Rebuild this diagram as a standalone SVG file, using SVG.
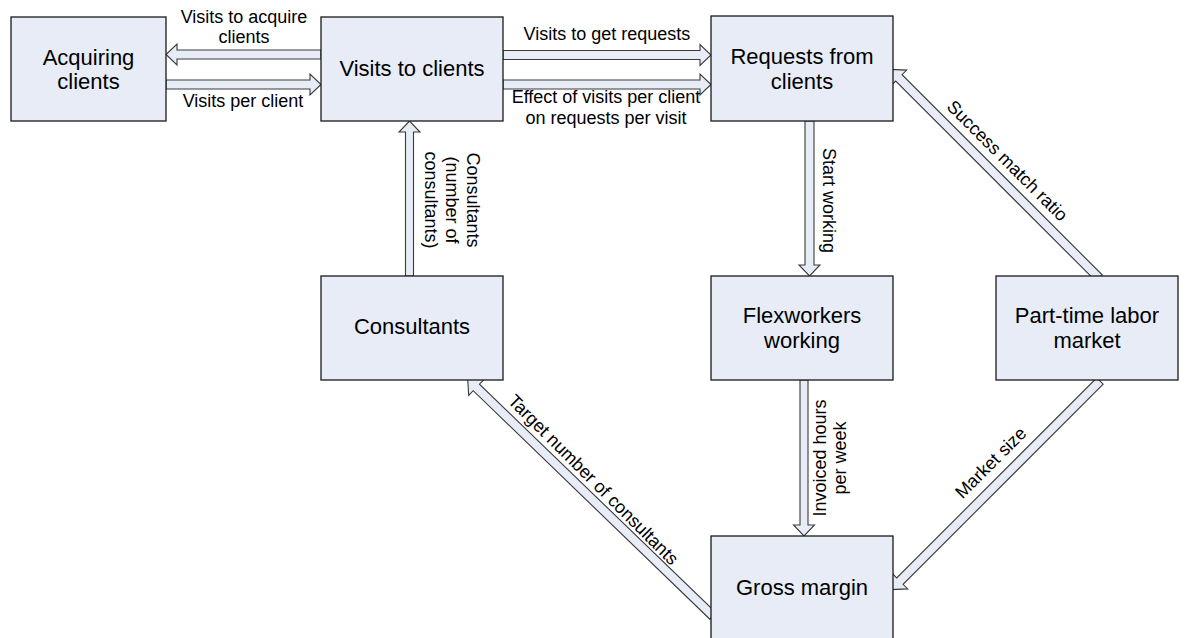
<svg xmlns="http://www.w3.org/2000/svg" width="1202" height="638" viewBox="0 0 1202 638">
<style>
.box{fill:#E7ECF7;stroke:#1a1a1a;stroke-width:1.3}
.arr{fill:#E7ECF7;stroke:#3a3a3a;stroke-width:1.1;stroke-linejoin:miter}
.nt{font-family:"Liberation Sans",Arial,sans-serif;font-size:22px;fill:#000;text-anchor:middle}
.et{font-family:"Liberation Sans",Arial,sans-serif;font-size:18px;fill:#000;text-anchor:middle}
</style>
<rect width="1202" height="638" fill="#fff"/>
<g id="connectors">
  <path class="arr" transform="translate(321,54.5) rotate(180)" d="M0,-4.5 H144 V-10.5 L155,0 L144,10.5 V4.5 H0 Z"/>
  <path class="arr" transform="translate(166,84.5)" d="M0,-4.5 H144 V-10.5 L155,0 L144,10.5 V4.5 H0 Z"/>
  <path class="arr" transform="translate(503,55)" d="M0,-4.5 H197 V-10.5 L208,0 L197,10.5 V4.5 H0 Z"/>
  <path class="arr" transform="translate(503,84.5)" d="M0,-4.5 H197 V-10.5 L208,0 L197,10.5 V4.5 H0 Z"/>
  <path class="arr" transform="translate(409.5,276) rotate(-90)" d="M0,-4 H144 V-10.5 L155,0 L144,10.5 V4 H0 Z"/>
  <path class="arr" transform="translate(809.5,121) rotate(90)" d="M0,-4.5 H144 V-10.5 L155,0 L144,10.5 V4.5 H0 Z"/>
  <path class="arr" transform="translate(804,380) rotate(90)" d="M0,-4 H145 V-10.5 L156,0 L145,10.5 V4 H0 Z"/>
  <path class="arr" transform="translate(1099,278) rotate(-135)" d="M0,-4.5 H283 V-11 L295,0 L283,11 V4.5 H0 Z"/>
  <path class="arr" transform="translate(1100,381) rotate(135)" d="M0,-4.5 H283 V-11 L295,0 L283,11 V4.5 H0 Z"/>
  <path class="arr" transform="translate(713,616) rotate(-136)" d="M0,-4.5 H329 V-11 L341,0 L329,11 V4.5 H0 Z"/>
  <text class="et" x="244" y="23">Visits to acquire</text>
  <text class="et" x="244" y="43">clients</text>
  <text class="et" x="243" y="107">Visits per client</text>
  <text class="et" x="607" y="40">Visits to get requests</text>
  <text class="et" x="606" y="103">Effect of visits per client</text>
  <text class="et" x="606" y="124">on requests per visit</text>
  <text class="et" transform="translate(467,200) rotate(90)"><tspan x="0" y="0">Consultants</tspan><tspan x="0" dy="21">(number of</tspan><tspan x="0" dy="21">consultants)</tspan></text>
  <text class="et" transform="translate(823,200.5) rotate(90)">Start working</text>
  <text class="et" transform="translate(826,458) rotate(-90)"><tspan x="0" y="0">Invoiced hours</tspan><tspan x="0" dy="20">per week</tspan></text>
  <text class="et" transform="translate(1003,165) rotate(45)">Success match ratio</text>
  <text class="et" transform="translate(589,484) rotate(45)">Target number of consultants</text>
  <text class="et" transform="translate(995,467) rotate(-45)">Market size</text>
</g>
<g id="acquiring-clients">
  <rect class="box" x="11" y="17" width="155" height="104"/>
  <text class="nt" x="88.5" y="65">Acquiring</text>
  <text class="nt" x="88.5" y="89">clients</text>
</g>
<g id="visits-to-clients">
  <rect class="box" x="321" y="17" width="182" height="104"/>
  <text class="nt" x="412" y="76">Visits to clients</text>
</g>
<g id="requests-from-clients">
  <rect class="box" x="711" y="16" width="182" height="105"/>
  <text class="nt" x="802" y="64">Requests from</text>
  <text class="nt" x="802" y="89">clients</text>
</g>
<g id="consultants">
  <rect class="box" x="321" y="276" width="182" height="104"/>
  <text class="nt" x="412" y="334">Consultants</text>
</g>
<g id="flexworkers-working">
  <rect class="box" x="711" y="276" width="182" height="104"/>
  <text class="nt" x="802" y="323">Flexworkers</text>
  <text class="nt" x="802" y="348">working</text>
</g>
<g id="part-time-labor-market">
  <rect class="box" x="996" y="276" width="182" height="104"/>
  <text class="nt" x="1087" y="323">Part-time labor</text>
  <text class="nt" x="1087" y="348">market</text>
</g>
<g id="gross-margin">
  <rect class="box" x="711" y="536" width="182" height="106"/>
  <text class="nt" x="802" y="595">Gross margin</text>
</g>
</svg>
